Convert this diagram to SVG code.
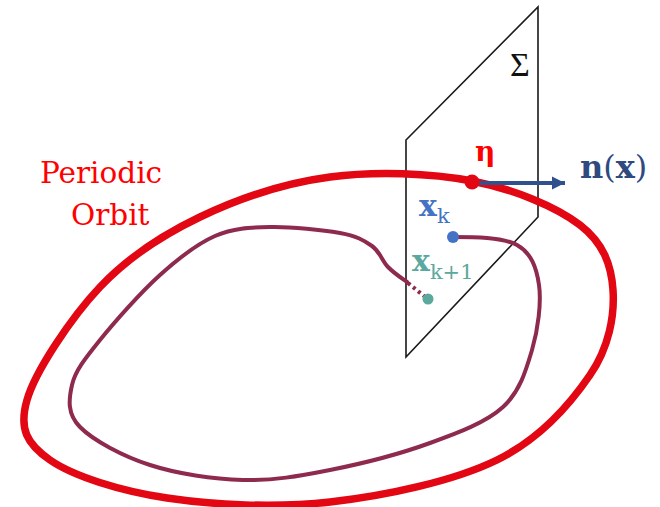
<svg xmlns="http://www.w3.org/2000/svg" width="660" height="507" viewBox="0 0 660 507">
  <style>
    .serif { font-family: "DejaVu Serif", "Liberation Serif", serif; }
    .plane { fill: none; stroke: #1a1a1a; stroke-width: 1.6; stroke-linejoin: miter; }
    .orbit { fill: none; stroke: #E30613; stroke-width: 7.5; }
    .traj { fill: none; stroke: #8E2A4E; stroke-width: 4; stroke-linecap: round; }
    .normal { fill: none; stroke: #2F528F; stroke-width: 4; }
  </style>
  <defs>
    <marker id="arrowhead" markerUnits="userSpaceOnUse" markerWidth="14" markerHeight="14" refX="13" refY="7" orient="auto">
      <polygon points="0,0.5 13,7 0,13.5" fill="#2F528F"/>
    </marker>
  </defs>
  <rect width="660" height="507" fill="#ffffff"/>

  <g id="section-plane">
    <polygon class="plane" points="406,140 538,7 538,217 406,357"/>
    <text x="510" y="76" font-family="Liberation Serif, serif" font-size="34" fill="#111">Σ</text>
  </g>

  <g id="periodic-orbit">
    <path class="orbit" d="M27,400 C35.3,371.2 71.2,317.5 100,287 C128.8,256.5 161.7,235.3 200,217 C238.3,198.7 284.7,183 330,177 C375.3,171 430.3,173 472,181 C513.7,189 556.5,206.8 580,225 C603.5,243.2 611.3,265 613,290 C614.7,315 609.3,346.7 590,375 C570.7,403.3 540.3,438.8 497,460 C453.7,481.2 385,496 330,502 C275,508 213.7,505 167,498 C120.3,491 73.3,476.2 50,460 C26.7,443.8 18.7,428.8 27,400 Z"/>
    <text class="serif" x="40" y="183" font-size="29.5" fill="#FF0000">Periodic</text>
    <text class="serif" x="71" y="225" font-size="29.5" fill="#FF0000">Orbit</text>
  </g>

  <g id="trajectory">
    <path class="traj" d="M453,237 C473,237 502.7,237 517,245 C531.3,253 536.5,267.5 539,285 C541.5,302.5 538,329.7 532,350 C526,370.3 520,391.5 503,407 C486,422.5 458.8,432.5 430,443 C401.2,453.5 361.2,463.8 330,470 C298.8,476.2 273,480.8 243,480 C213,479.2 177.2,473.8 150,465 C122.8,456.2 93,440.3 80,427 C67,413.7 68.7,399.5 72,385 C75.3,370.5 85.3,358.3 100,340 C114.7,321.7 140.8,292.3 160,275 C179.2,257.7 196.7,244 215,236 C233.3,228 249.2,227.5 270,227 C290.8,226.5 323.3,230 340,233 C356.7,236 364,240.3 372,246 C380,251.7 382.2,261 388,267 C393.8,273 400,277 407,282"/>
    <path d="M408,283 L424,296" fill="none" stroke="#8E2A4E" stroke-width="4" stroke-dasharray="3,3.5"/>
  </g>

  <g id="point-xk">
    <circle cx="453" cy="237" r="6" fill="#4472C4"/>
    <text class="serif" x="419" y="216" font-size="30" fill="#4472C4"><tspan font-weight="bold">x</tspan><tspan font-size="21" dy="7">k</tspan></text>
  </g>

  <g id="point-xk1">
    <circle cx="428" cy="299" r="5.5" fill="#5BA89E"/>
    <text class="serif" x="412" y="271" font-size="30" fill="#5BA89E"><tspan font-weight="bold">x</tspan><tspan font-size="21" dy="8">k+1</tspan></text>
  </g>

  <g id="connectors">
    <line class="normal" x1="475" y1="183" x2="565" y2="183" marker-end="url(#arrowhead)"/>
  </g>

  <g id="point-eta">
    <circle cx="472" cy="182" r="7.5" fill="#E30613"/>
    <text class="serif" x="475" y="161" font-size="28" font-weight="bold" fill="#FF0000">η</text>
  </g>

  <g id="normal-label">
    <text class="serif" x="580" y="178" font-size="32" fill="#2E4A7F"><tspan font-weight="bold">n</tspan><tspan>(</tspan><tspan font-weight="bold">x</tspan><tspan>)</tspan></text>
  </g>
</svg>
